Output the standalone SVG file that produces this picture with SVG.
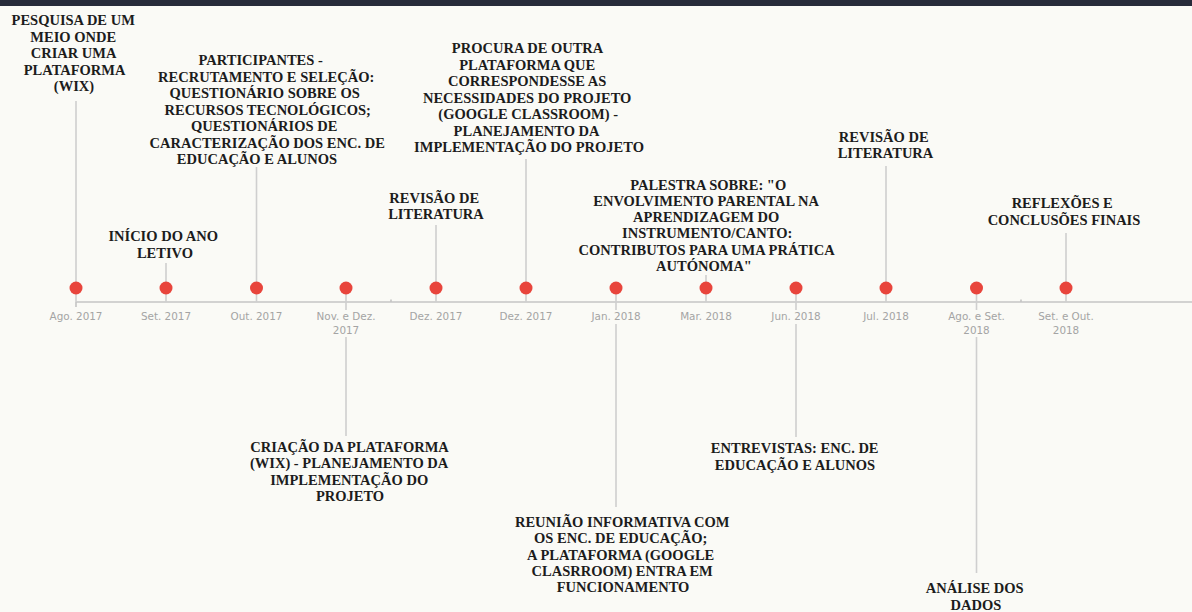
<svg xmlns="http://www.w3.org/2000/svg" width="1192" height="612" viewBox="0 0 1192 612">
  <style>
    .lbl { font-family: "Liberation Serif", "Times New Roman", serif; font-weight: bold; font-size: 14.5px; fill: #1c1c1c; text-anchor: middle; }
    .date { font-family: "DejaVu Sans", Verdana, sans-serif; font-size: 10.4px; fill: #a4a4a4; text-anchor: middle; }
    .stem { stroke: #cfcfcf; stroke-width: 1.6; fill: none; }
    .axis { stroke: #c4c4c4; stroke-width: 1.6; fill: none; }
    .dot { fill: #e8453c; }
    .datebg { fill: #fafaf6; }
  </style>

  <!-- page background and header strip -->
  <rect x="0" y="0" width="1192" height="612" fill="#fafaf6"/>
  <rect x="0" y="0" width="1192" height="6" fill="#272b3a"/>

  <!-- axis and stems -->
  <g id="connectors">
    <line class="axis" x1="76" y1="302" x2="1192" y2="302"/>
    <line class="axis" x1="76" y1="302" x2="76" y2="307"/>
    <line class="axis" x1="391" y1="299.5" x2="391" y2="302"/>
    <line class="axis" x1="1021" y1="299.5" x2="1021" y2="302"/>

    <!-- stems above the axis -->
    <line class="stem" x1="76" y1="101" x2="76" y2="302"/>
    <line class="stem" x1="166" y1="263" x2="166" y2="302"/>
    <line class="stem" x1="256.5" y1="167" x2="256.5" y2="302"/>
    <line class="stem" x1="436" y1="225" x2="436" y2="302"/>
    <line class="stem" x1="526" y1="159" x2="526" y2="302"/>
    <line class="stem" x1="706" y1="275" x2="706" y2="302"/>
    <line class="stem" x1="886" y1="166" x2="886" y2="302"/>
    <line class="stem" x1="1066" y1="233" x2="1066" y2="302"/>

    <!-- stems below the axis -->
    <line class="stem" x1="346" y1="288" x2="346" y2="436"/>
    <line class="stem" x1="616" y1="288" x2="616" y2="507"/>
    <line class="stem" x1="796" y1="288" x2="796" y2="437"/>
    <line class="stem" x1="976.5" y1="288" x2="976.5" y2="573"/>
  </g>

  <g id="ev-ago-2017">
    <circle class="dot" cx="76" cy="288" r="6.5"/>
    <text class="date" x="76" y="320">Ago. 2017</text>
    <text class="lbl">
      <tspan x="75" y="25">PESQUISA DE UM</tspan>
      <tspan x="75" y="41.5">MEIO ONDE</tspan>
      <tspan x="75" y="58">CRIAR UMA</tspan>
      <tspan x="76" y="74.5">PLATAFORMA</tspan>
      <tspan x="74" y="91">(WIX)</tspan>
    </text>
  </g>

  <g id="ev-set-2017">
    <circle class="dot" cx="166" cy="288" r="6.5"/>
    <text class="date" x="166" y="320">Set. 2017</text>
    <text class="lbl">
      <tspan x="165" y="241">INÍCIO DO ANO</tspan>
      <tspan x="165" y="257.5">LETIVO</tspan>
    </text>
  </g>

  <g id="ev-out-2017">
    <circle class="dot" cx="256.5" cy="288" r="6.5"/>
    <text class="date" x="256.5" y="320">Out. 2017</text>
    <text class="lbl">
      <tspan x="262.5" y="65">PARTICIPANTES -</tspan>
      <tspan x="268" y="81.5">RECRUTAMENTO E SELEÇÃO:</tspan>
      <tspan x="266.5" y="98">QUESTIONÁRIO SOBRE OS</tspan>
      <tspan x="269.5" y="114.5">RECURSOS TECNOLÓGICOS;</tspan>
      <tspan x="266" y="131">QUESTIONÁRIOS DE</tspan>
      <tspan x="269" y="147.5">CARACTERIZAÇÃO DOS ENC. DE</tspan>
      <tspan x="257" y="164">EDUCAÇÃO E ALUNOS</tspan>
    </text>
  </g>

  <g id="ev-nov-dez-2017">
    <circle class="dot" cx="346" cy="288" r="6.5"/>
    <rect class="datebg" x="314" y="310" width="64" height="27"/>
    <text class="date" x="346" y="320">Nov. e Dez.</text>
    <text class="date" x="346" y="334">2017</text>
    <text class="lbl">
      <tspan x="351" y="451.5">CRIAÇÃO DA PLATAFORMA</tspan>
      <tspan x="350.5" y="468">(WIX) - PLANEJAMENTO DA</tspan>
      <tspan x="351" y="484.5">IMPLEMENTAÇÃO DO</tspan>
      <tspan x="350" y="501">PROJETO</tspan>
    </text>
  </g>

  <g id="ev-dez-2017-a">
    <circle class="dot" cx="436" cy="288" r="6.5"/>
    <text class="date" x="436" y="320">Dez. 2017</text>
    <text class="lbl">
      <tspan x="436" y="202.5">REVISÃO DE</tspan>
      <tspan x="436" y="219">LITERATURA</tspan>
    </text>
  </g>

  <g id="ev-dez-2017-b">
    <circle class="dot" cx="526" cy="288" r="6.5"/>
    <text class="date" x="526" y="320">Dez. 2017</text>
    <text class="lbl">
      <tspan x="529" y="53">PROCURA DE OUTRA</tspan>
      <tspan x="529" y="69.5">PLATAFORMA QUE</tspan>
      <tspan x="529" y="86">CORRESPONDESSE AS</tspan>
      <tspan x="529" y="102.5">NECESSIDADES DO PROJETO</tspan>
      <tspan x="530" y="119">(GOOGLE CLASSROOM) -</tspan>
      <tspan x="528" y="135.5">PLANEJAMENTO DA</tspan>
      <tspan x="529" y="152">IMPLEMENTAÇÃO DO PROJETO</tspan>
    </text>
  </g>

  <g id="ev-jan-2018">
    <circle class="dot" cx="616" cy="288" r="6.5"/>
    <rect class="datebg" x="588" y="310" width="56" height="14"/>
    <text class="date" x="616" y="320">Jan. 2018</text>
    <text class="lbl">
      <tspan x="624" y="527">REUNIÃO INFORMATIVA COM</tspan>
      <tspan x="622.5" y="543.3">OS ENC. DE EDUCAÇÃO;</tspan>
      <tspan x="622.5" y="559.6">A PLATAFORMA (GOOGLE</tspan>
      <tspan x="624" y="576">CLASRROOM) ENTRA EM</tspan>
      <tspan x="623" y="592.3">FUNCIONAMENTO</tspan>
    </text>
  </g>

  <g id="ev-mar-2018">
    <circle class="dot" cx="706" cy="288" r="6.5"/>
    <text class="date" x="706" y="320">Mar. 2018</text>
    <text class="lbl">
      <tspan x="710" y="189.5">PALESTRA SOBRE: "O</tspan>
      <tspan x="707.5" y="205.8">ENVOLVIMENTO PARENTAL NA</tspan>
      <tspan x="708" y="222.1">APRENDIZAGEM DO</tspan>
      <tspan x="709" y="238.4">INSTRUMENTO/CANTO:</tspan>
      <tspan x="708" y="254.7">CONTRIBUTOS PARA UMA PRÁTICA</tspan>
      <tspan x="704" y="271">AUTÓNOMA"</tspan>
    </text>
  </g>

  <g id="ev-jun-2018">
    <circle class="dot" cx="796" cy="288" r="6.5"/>
    <rect class="datebg" x="768" y="310" width="56" height="14"/>
    <text class="date" x="796" y="320">Jun. 2018</text>
    <text class="lbl">
      <tspan x="796.5" y="453.3">ENTREVISTAS: ENC. DE</tspan>
      <tspan x="795" y="470">EDUCAÇÃO E ALUNOS</tspan>
    </text>
  </g>

  <g id="ev-jul-2018">
    <circle class="dot" cx="886" cy="288" r="6.5"/>
    <text class="date" x="886" y="320">Jul. 2018</text>
    <text class="lbl">
      <tspan x="885.5" y="141.7">REVISÃO DE</tspan>
      <tspan x="885.5" y="158">LITERATURA</tspan>
    </text>
  </g>

  <g id="ev-ago-set-2018">
    <circle class="dot" cx="976.5" cy="288" r="6.5"/>
    <rect class="datebg" x="944" y="310" width="65" height="27"/>
    <text class="date" x="976.5" y="320">Ago. e Set.</text>
    <text class="date" x="976.5" y="334">2018</text>
    <text class="lbl">
      <tspan x="976.5" y="593.3">ANÁLISE DOS</tspan>
      <tspan x="976" y="610">DADOS</tspan>
    </text>
  </g>

  <g id="ev-set-out-2018">
    <circle class="dot" cx="1066" cy="288" r="6.5"/>
    <text class="date" x="1066" y="320">Set. e Out.</text>
    <text class="date" x="1066" y="334">2018</text>
    <text class="lbl">
      <tspan x="1064" y="208">REFLEXÕES E</tspan>
      <tspan x="1064" y="225">CONCLUSÕES FINAIS</tspan>
    </text>
  </g>
</svg>
